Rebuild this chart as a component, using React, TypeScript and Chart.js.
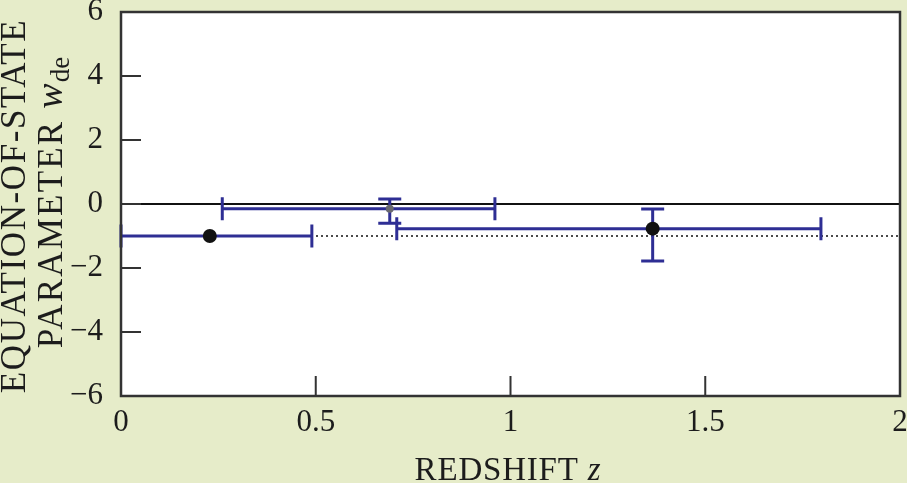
import React, { useEffect, useRef } from "react";
import { Chart, registerables } from "chart.js";

Chart.register(...registerables);

// ---- data ----
const zValues = [0.228, 0.69, 1.365];
const wValues = [-1.0, -0.15, -0.77];
const zErrLow = [0.0, 0.26, 0.708];
const zErrHigh = [0.49, 0.96, 1.797];
const wErrLow: (number | null)[] = [null, -0.6, -1.78];
const wErrHigh: (number | null)[] = [null, 0.16, -0.16];
const pointColors = ["#111111", "#6a6a70", "#111111"];
const pointRadii = [7, 4, 7];

const xTickValues = [0, 0.5, 1, 1.5, 2];
const xTickLabels = ["0", "0.5", "1", "1.5", "2"];
const yTickValues = [-6, -4, -2, 0, 2, 4, 6];
const yTickLabels = ["\u22126", "\u22124", "\u22122", "0", "2", "4", "6"];
const xInnerTicks = [0.5, 1, 1.5];
const yInnerTicks = [-4, -2, 0, 2, 4];

const solidLineW = 0;
const dottedLineW = -1;

const xTitleMain = "REDSHIFT ";
const xTitleVar = "z";
const yTitleLine1 = "EQUATION-OF-STATE";
const yTitleLine2 = "PARAMETER ";
const yTitleVar = "w";
const yTitleSub = "de";

const BG = "#e6ecc9";
const BAR = "#2e2e94";
const SERIF = "'Liberation Serif', 'Times New Roman', serif";
const TEXT = "#1c1c1c";

const decorPlugin = {
  id: "decor",
  beforeDraw(chart: any) {
    const { ctx, chartArea: a } = chart;
    ctx.save();
    ctx.fillStyle = BG;
    ctx.fillRect(0, 0, chart.width, chart.height);
    ctx.fillStyle = "#ffffff";
    ctx.fillRect(a.left, a.top, a.right - a.left, a.bottom - a.top);
    ctx.restore();
  },
  beforeDatasetsDraw(chart: any) {
    const { ctx, chartArea: a, scales } = chart;
    const xs = scales.x;
    const ys = scales.y;
    ctx.save();
    // reference lines
    ctx.strokeStyle = "#111";
    ctx.setLineDash([2, 3]);
    ctx.lineWidth = 1.3;
    let yy = ys.getPixelForValue(dottedLineW);
    ctx.beginPath();
    ctx.moveTo(xs.getPixelForValue(0), yy);
    ctx.lineTo(xs.getPixelForValue(2), yy);
    ctx.stroke();
    ctx.setLineDash([]);
    ctx.lineWidth = 2;
    yy = ys.getPixelForValue(solidLineW);
    ctx.beginPath();
    ctx.moveTo(a.left, yy);
    ctx.lineTo(a.right, yy);
    ctx.stroke();

    // error bars
    ctx.strokeStyle = BAR;
    ctx.lineWidth = 3;
    const cap = 11.5;
    for (let i = 0; i < zValues.length; i++) {
      const py = ys.getPixelForValue(wValues[i]);
      const px = xs.getPixelForValue(zValues[i]);
      const x0 = xs.getPixelForValue(zErrLow[i]);
      const x1 = xs.getPixelForValue(zErrHigh[i]);
      ctx.beginPath();
      ctx.moveTo(x0, py);
      ctx.lineTo(x1, py);
      ctx.moveTo(x0, py - cap);
      ctx.lineTo(x0, py + cap);
      ctx.moveTo(x1, py - cap);
      ctx.lineTo(x1, py + cap);
      ctx.stroke();
      const lo = wErrLow[i];
      const hi = wErrHigh[i];
      if (lo !== null && hi !== null) {
        const y0 = ys.getPixelForValue(lo);
        const y1 = ys.getPixelForValue(hi);
        ctx.beginPath();
        ctx.moveTo(px, y0);
        ctx.lineTo(px, y1);
        ctx.moveTo(px - cap, y0);
        ctx.lineTo(px + cap, y0);
        ctx.moveTo(px - cap, y1);
        ctx.lineTo(px + cap, y1);
        ctx.stroke();
      }
    }
    ctx.restore();
  },
  afterDraw(chart: any) {
    const { ctx, chartArea: a, scales } = chart;
    const xs = scales.x;
    const ys = scales.y;
    ctx.save();
    // inner ticks
    ctx.strokeStyle = "#333";
    ctx.lineWidth = 2;
    const tl = 20;
    ctx.beginPath();
    xInnerTicks.forEach((v) => {
      const x = xs.getPixelForValue(v);
      ctx.moveTo(x, a.bottom);
      ctx.lineTo(x, a.bottom - tl);
    });
    yInnerTicks.forEach((v) => {
      const y = ys.getPixelForValue(v);
      ctx.moveTo(a.left, y);
      ctx.lineTo(a.left + tl, y);
    });
    ctx.stroke();
    // frame
    ctx.lineWidth = 2.5;
    ctx.strokeStyle = "#333";
    ctx.strokeRect(a.left, a.top, a.right - a.left, a.bottom - a.top);

    // x title
    ctx.fillStyle = TEXT;
    ctx.textBaseline = "alphabetic";
    ctx.textAlign = "left";
    (ctx as any).letterSpacing = "0.8px";
    const fMain = `33px ${SERIF}`;
    const fIt = `italic 33px ${SERIF}`;
    ctx.font = fMain;
    const w1 = ctx.measureText(xTitleMain).width;
    ctx.font = fIt;
    const w2 = ctx.measureText(xTitleVar).width;
    const cx = 508;
    const sx = cx - (w1 + w2) / 2;
    ctx.font = fMain;
    ctx.fillText(xTitleMain, sx, 480);
    ctx.font = fIt;
    ctx.fillText(xTitleVar, sx + w1, 480);

    // y title line 1
    ctx.save();
    ctx.translate(25, 206);
    ctx.rotate(-Math.PI / 2);
    (ctx as any).letterSpacing = "1.6px";
    ctx.font = `35px ${SERIF}`;
    ctx.textAlign = "left";
    const l1 = ctx.measureText(yTitleLine1).width;
    ctx.fillText(yTitleLine1, -l1 / 2, 0);
    ctx.restore();

    // y title line 2
    ctx.save();
    ctx.translate(62, 203);
    ctx.rotate(-Math.PI / 2);
    ctx.textAlign = "left";
    (ctx as any).letterSpacing = "2.2px";
    const fL = `35px ${SERIF}`;
    const fLi = `italic 38px ${SERIF}`;
    const fS = `27px ${SERIF}`;
    ctx.font = fL;
    const a1 = ctx.measureText(yTitleLine2).width;
    (ctx as any).letterSpacing = "0px";
    ctx.font = fLi;
    const a2 = ctx.measureText(yTitleVar).width;
    ctx.font = fS;
    const a3 = ctx.measureText(yTitleSub).width;
    const start = -(a1 + a2 + a3) / 2;
    (ctx as any).letterSpacing = "2.2px";
    ctx.font = fL;
    ctx.fillText(yTitleLine2, start, 0);
    (ctx as any).letterSpacing = "0px";
    ctx.font = fLi;
    ctx.fillText(yTitleVar, start + a1, 0);
    ctx.font = fS;
    ctx.fillText(yTitleSub, start + a1 + a2 + 1, 7);
    ctx.restore();

    ctx.restore();
  },
};

export default function App() {
  const ref = useRef<HTMLCanvasElement | null>(null);
  useEffect(() => {
    if (!ref.current) return;
    const chart = new Chart(ref.current, {
      type: "scatter",
      data: {
        datasets: [
          {
            label: "w_de",
            data: zValues.map((z, i) => ({ x: z, y: wValues[i] })),
            pointRadius: pointRadii,
            pointBackgroundColor: pointColors,
            pointBorderColor: pointColors,
            pointBorderWidth: 0,
            showLine: false,
          },
        ],
      },
      options: {
        animation: false,
        responsive: false,
        devicePixelRatio: 1,
        layout: { padding: { top: 12, right: 4, left: 0, bottom: 0 } },
        plugins: { legend: { display: false }, tooltip: { enabled: false } },
        scales: {
          x: {
            type: "linear",
            min: 0,
            max: 2,
            afterBuildTicks: (s: any) => {
              s.ticks = xTickValues.map((v) => ({ value: v }));
            },
            afterFit: (s: any) => {
              s.height = 87;
              s.paddingLeft = 0;
              s.paddingRight = 0;
            },
            grid: { display: false },
            border: { display: false },
            ticks: {
              padding: 0,
              color: TEXT,
              font: { family: SERIF, size: 31 },
              maxRotation: 0,
              autoSkip: false,
              callback: (v: any) => {
                const i = xTickValues.indexOf(Number(v));
                return i >= 0 ? xTickLabels[i] : "";
              },
            },
          },
          y: {
            type: "linear",
            min: -6,
            max: 6,
            afterBuildTicks: (s: any) => {
              s.ticks = yTickValues.map((v) => ({ value: v }));
            },
            afterFit: (s: any) => {
              s.width = 121;
              s.paddingTop = 0;
              s.paddingBottom = 0;
            },
            grid: { display: false },
            border: { display: false },
            ticks: {
              padding: 10,
              color: TEXT,
              font: { family: SERIF, size: 31 },
              autoSkip: false,
              callback: (v: any) => {
                const i = yTickValues.indexOf(Number(v));
                return i >= 0 ? yTickLabels[i] : "";
              },
            },
          },
        },
      },
      plugins: [decorPlugin],
    });
    return () => chart.destroy();
  }, []);
  return (
    <div style={{ position: "fixed", left: 0, top: 0, width: 907, height: 483, background: BG }}>
      <canvas ref={ref} width={907} height={483} style={{ display: "block" }} />
    </div>
  );
}
